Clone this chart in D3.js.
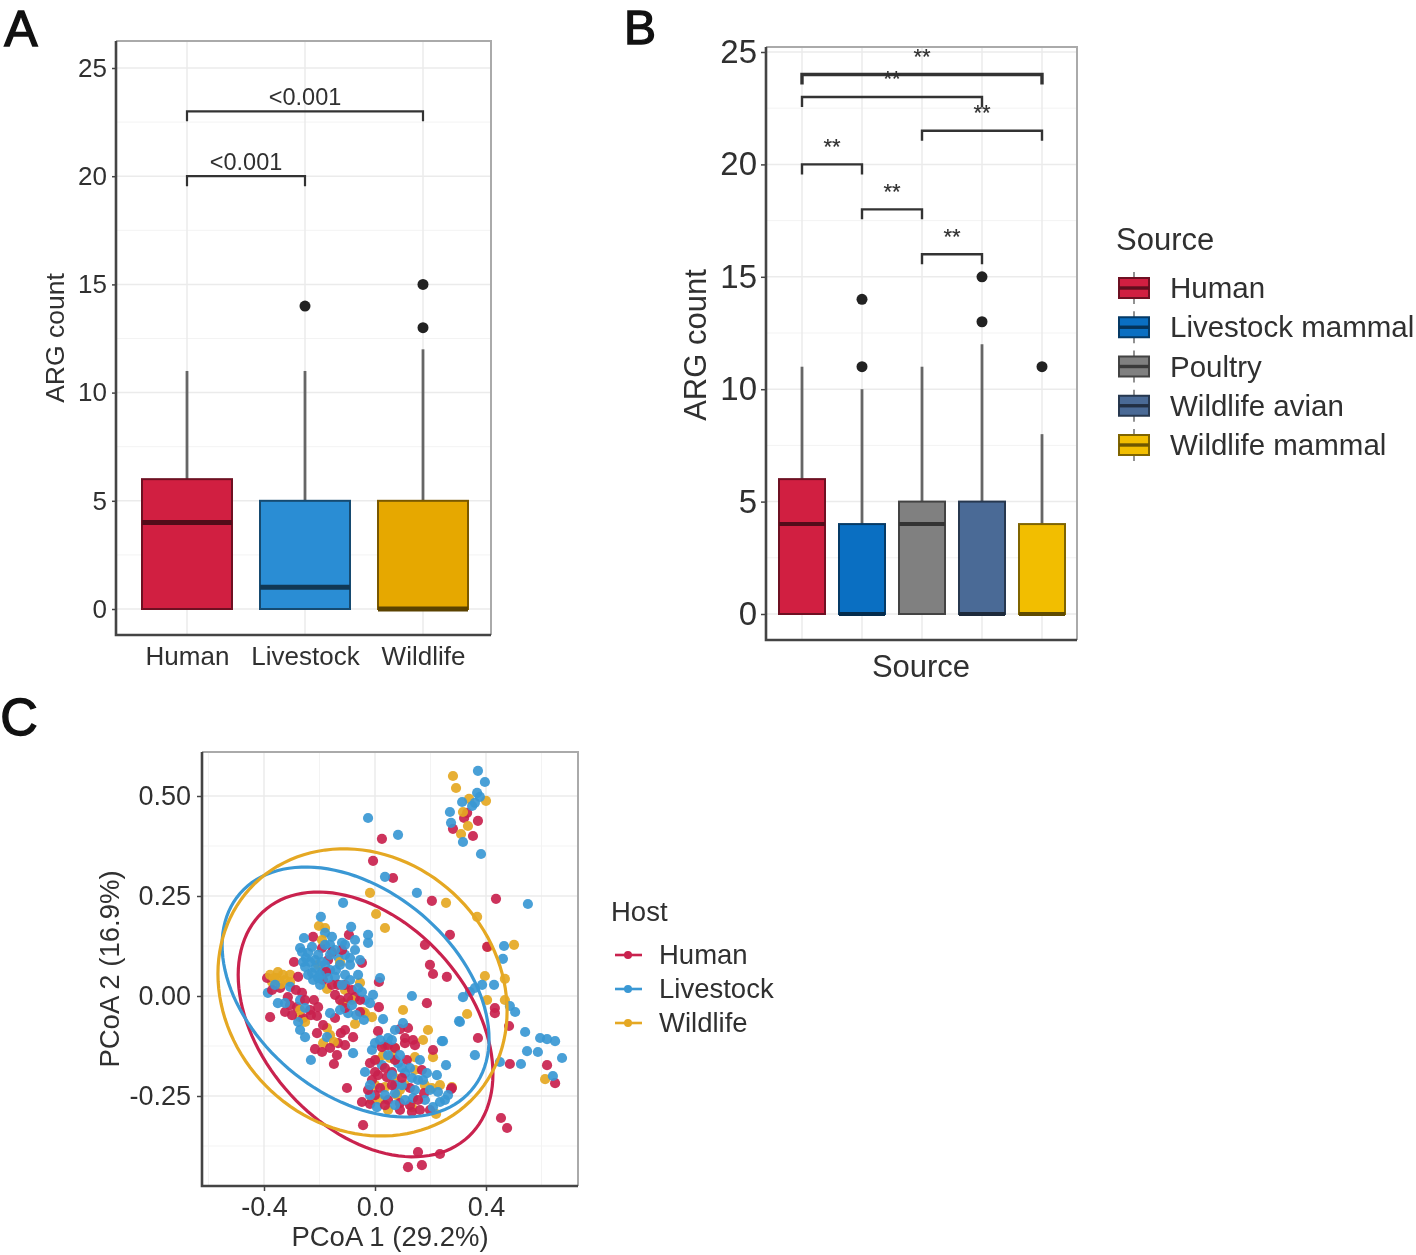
<!DOCTYPE html>
<html><head><meta charset="utf-8">
<script src="https://d3js.org/d3.v7.min.js"></script>
<style>
html,body{margin:0;padding:0;background:#fff}
svg{display:block;font-family:"Liberation Sans",Arial,sans-serif;filter:blur(0.7px)}
</style></head><body>
<svg id="c" width="1416" height="1255"></svg>
<script>
// Panel A
const catsA=["Human","Livestock","Wildlife"];
const q3A=[6,5,5], medA=[4,1,0], q1A=[0,0,0], whiskA=[11,11,12];
const outA=[[],[14],[13,15]];
const fillA=["#D11F41","#2A8DD4","#E6A800"];
const yTicks=[0,5,10,15,20,25];
const bracketsA=[["Human","Livestock",20,"<0.001"],["Human","Wildlife",23,"<0.001"]];
// Panel B
const catsB=["Human","Livestock mammal","Poultry","Wildlife avian","Wildlife mammal"];
const q3B=[6,4,5,5,4], medB=[4,0,4,0,0], q1B=[0,0,0,0,0], whiskB=[11,10,11,12,8];
const outB=[[],[11,14],[],[13,15],[11]];
const fillB=["#D11F41","#0A6FC2","#808080","#4A6A96","#F2BE00"];
const bracketsB=[[0,4,24,"**"],[0,3,23,"**"],[2,4,21.5,"**"],[0,1,20,"**"],[1,2,18,"**"],[2,3,16,"**"]];
// Panel C
const hostsC=["Human","Livestock","Wildlife"];
const colC=["#C9224E","#3A98D4","#E5A823"];
const xTicksC=[-0.4,0,0.4], xMinorC=[-0.6,-0.2,0.2,0.6];
const yTicksC=[-0.25,0,0.25,0.5], yMinorC=[-0.375,-0.125,0.125,0.375];
// ellipse: centre x, centre y, sd x, sd y, correlation
const ellHuman=[-0.034,-0.071,0.459,0.331,-0.373];
const ellLivestock=[-0.070,0.010,0.481,0.3125,-0.375];
const ellWildlife=[-0.045,0.009,0.521,0.359,-0.13];
const ptsHuman=[[.332,.458],[.321,.445],[.371,.438],[.281,.418],[.353,.400],[.436,.243],[.205,.238],[.270,.153],[.180,.128],[.404,.123],[.065,.295],[.198,.078],[.025,.393],[-.007,.338],
[.483,-.075],[.371,-.105],[.486,-.170],[.620,-.173],[.649,-.218],[.454,-.305],[.476,-.330],[.155,-.390],[.234,-.395],[.119,-.428],[.169,-.423],[.432,-.030],[.432,-.043],[.187,-.018],[.209,.055],[.259,.048],[.274,-.233],[.209,-.135],
[-.378,-.053],[-.043,-.323],[-.101,-.230],[.014,.035],[.014,-.028],[.011,-.088],[-.079,-.103],
[-.191,.120],[-.223,.148],[-.094,.153],[-.292,.085],[-.047,.083],[-.169,.090],[-.187,.040],[-.389,.045],[-.342,.020],[-.277,.048],[-.314,-.003],[-.263,.008],[-.281,-.028],[-.220,-.010],[-.205,-.028],[-.144,.003],[-.072,-.003],[-.209,-.050],[-.259,-.055],[-.144,-.055],[-.187,-.073],[-.123,-.093],[-.209,-.093],[-.133,-.118],[-.216,-.133],[-.191,-.140],[-.137,-.148],[-.148,-.170],
[-.108,.028],[-.083,.015],[-.234,-.035],[-.306,-.023],[-.108,-.030],[-.155,.028],[-.324,-.040],[-.126,-.010],[-.054,-.040],
[.090,-.083],[.119,-.080],[.137,-.110],[-.018,-.168],[-.011,-.210],[.043,-.203],[.115,-.160],[.169,-.185],[.126,-.230],[.177,-.243],[.277,-.230],[.047,-.123],[.018,-.230],[.047,-.260],[.090,-.268],[.162,-.285],[-.047,-.265],[0,-.248],[.108,-.118],[.025,-.128],[.061,-.190],[.011,-.198],[.126,-.273],[-.018,-.270],[.072,-.130],[.144,-.123],[.198,-.285],
[-.155,.110],[-.119,.115],[-.176,.060],[-.133,.028],[-.097,-.005],[-.054,-.010],[-.371,.015],[-.285,.015],[-.252,-.010],[-.299,-.048],[-.231,-.048],[-.108,-.085],[-.162,-.130],[-.108,-.123],
[0,-.160],[.036,-.180],[.072,-.160],[.061,-.223],[.097,-.205],[0,-.190],[.036,-.273],[.090,-.285],[.133,-.290],[-.025,-.235],[.108,-.105],[.155,-.260]];
const ptsLivestock=[[.371,.563],[.396,.535],[.368,.508],[.314,.485],[.270,.460],[.274,.433],[.317,.385],[.382,.355],[.083,.403],[.151,.258],[.551,.230],[.465,.125],[.461,.093],[.360,.483],[.378,.498],[.350,.475],[-.025,.445],[.036,.298],[-.115,.233],[-.195,.198],
[.541,-.090],[.595,-.105],[.620,-.108],[.649,-.113],[.548,-.138],[.587,-.140],[.674,-.155],[.526,-.170],[.450,-.165],[.641,-.200],[.360,-.148],[.505,-.040],[.486,-.025],[.429,.028],[.386,.028],[.360,.020],[.317,-.003],[.303,-.063],[.133,0],[.245,-.113],[.256,-.173],[.342,.010],
[-.350,-.018],[-.252,-.103],[-.231,-.160],[-.079,-.143],[.029,-.058],
[-.086,.173],[-.256,.145],[-.025,.153],[-.025,.133],[-.263,.110],[-.241,.108],[-.252,.073],[-.227,.058],[-.223,.040],[-.144,.048],[-.119,.133],[-.072,.140],[-.072,.115],[-.133,.098],[-.180,.158],[-.155,.148],[-.386,.008],[-.306,.023],[-.007,.003],[-.036,-.010],[-.097,-.043],[-.162,-.043],[-.173,-.103],
[-.205,.103],[-.180,.078],[-.216,.090],[-.162,.128],[-.191,.060],[-.162,.065],[-.126,.078],[-.108,.103],[-.227,.123],[-.234,.085],[-.108,.053],[-.090,.078],[-.061,.020],[.018,.045],[-.198,.028],[-.270,-.010],[-.277,-.065],
[.101,-.068],[.306,-.065],[.241,-.113],[.047,-.105],[0,-.118],[-.011,-.135],[.025,-.173],[.097,-.180],[.108,-.193],[.187,-.193],[.223,-.198],[.162,-.160],[.072,-.223],[.097,-.223],[-.018,-.248],[.007,-.278],[.234,-.265],[.209,-.278],[.252,-.260],[.137,-.255],[.173,-.210],[.083,-.168],[.133,-.205],[.061,-.110],[.072,-.243],[.263,-.248],[.180,-.260],
[-.270,.120],[-.249,.095],[-.216,.070],[-.198,.053],[-.241,.053],[-.180,.128],[-.144,.115],[-.108,.128],[-.090,.095],[-.162,.103],[-.191,.085],[-.141,.065],[-.169,.045],[-.119,.028],[-.090,.040],[-.061,.053],[-.259,.085],[-.205,.045],[-.054,.090],[-.047,.010],[-.018,-.018],[-.083,-.023],[-.126,-.035],[-.068,-.048],[-.040,-.060],[-.252,-.030],[-.360,.028],[-.324,-.018],[-.270,-.085],
[.018,-.110],[.072,-.085],[.047,-.148],[.090,-.148],[.126,-.180],[.155,-.210],[.061,-.198],[.036,-.248],[.072,-.273],[-.018,-.223],[.198,-.235],[.144,-.235],[.108,-.260],[-.036,-.190],[.227,-.240]];
const ptsWildlife=[[.281,.550],[.292,.520],[.339,.493],[.400,.488],[.335,.425],[.310,.405],[.256,.233],[.368,.198],[.407,.123],[.501,.128],[.317,.460],[-.018,.258],[.004,.205],[.036,.170],[-.202,.175],[-.180,.170],
[.468,.043],[.396,.050],[.468,-.010],[.404,-.010],[.332,-.045],[.101,-.035],[.191,-.085],[.613,-.208],[.209,-.153],[.277,-.228],[.220,-.295],[.173,-.110],[-.072,-.070],
[-.332,.053],[-.353,.045],[-.324,.040],[-.350,.060],[-.205,.078],[-.173,.018],[-.115,-.018],[-.054,.033],[-.270,-.053],[-.043,-.040],[-.187,-.118],[-.173,-.080],[-.036,-.043],[-.011,-.053],[-.371,.035],[-.306,.053],
[.061,-.148],[.029,-.148],[.054,-.155],[.036,-.228],[.079,-.248],[.205,-.230],[.133,-.278],[.144,-.153],[.011,-.160],[.090,-.235],[0,-.223],[.018,-.260],[.234,-.223],
[-.364,.045],[-.339,.030],[-.306,.035],[-.378,.053],[-.270,-.035],[-.252,-.065],[-.108,.015],[-.083,-.010],[-.191,.140],[-.126,.085],[-.162,-.098],[-.148,-.115],
[.072,-.130],[.036,-.123],[.108,-.223],[.072,-.205],[.144,-.185],[.180,-.223],[-.011,-.260],[.047,-.285]];

const svg=d3.select("#c");
const TXT="#303030";
function label(x,y,s,size,opt={}){
  const t=svg.append("text").attr("x",x).attr("y",y).attr("font-size",size).attr("fill",opt.fill||TXT)
    .attr("text-anchor",opt.anchor||"middle").text(s);
  if(opt.rotate)t.attr("transform",`rotate(-90 ${x} ${y})`);
  if(opt.stroke)t.attr("stroke",opt.fill||TXT).attr("stroke-width",opt.stroke);
  return t;
}
function frame(L,R,T,B){
  svg.append("path").attr("d",`M${L},${T}H${R}V${B}`).attr("fill","none").attr("stroke","#aaa").attr("stroke-width",2);
  svg.append("path").attr("d",`M${L},${T}V${B}H${R}`).attr("fill","none").attr("stroke","#444").attr("stroke-width",2.6);
}
function grid(L,R,T,B,xs,ys,col,w){
  const g=svg.append("g").attr("stroke",col).attr("stroke-width",w);
  xs.forEach(v=>g.append("line").attr("x1",v).attr("x2",v).attr("y1",T).attr("y2",B));
  ys.forEach(v=>g.append("line").attr("x1",L).attr("x2",R).attr("y1",v).attr("y2",v));
}
function styleAxis(g,size){
  g.select(".domain").remove();
  g.selectAll("line").attr("stroke","#444").attr("stroke-width",1.5);
  g.selectAll("text").attr("font-size",size).attr("fill",TXT).attr("font-family","'Liberation Sans',Arial,sans-serif");
}
function boxes(cats,x,y,hw,q1,med,q3,whisk,out,fill,rOut,medW){
  cats.forEach((c,i)=>{
    const cx=x(c), base=d3.color(fill[i]);
    svg.append("line").attr("x1",cx).attr("x2",cx).attr("y1",y(whisk[i])).attr("y2",y(q3[i])).attr("stroke","#666").attr("stroke-width",2.8);
    svg.append("rect").attr("x",cx-hw).attr("width",2*hw).attr("y",y(q3[i])).attr("height",y(q1[i])-y(q3[i]))
      .attr("fill",fill[i]).attr("stroke",base.darker(1.8)).attr("stroke-width",2);
    svg.append("line").attr("x1",cx-hw).attr("x2",cx+hw).attr("y1",y(med[i])).attr("y2",y(med[i])).attr("stroke",base.darker(2.6)).attr("stroke-width",medW);
    out[i].forEach(v=>svg.append("circle").attr("cx",cx).attr("cy",y(v)).attr("r",rOut).attr("fill","#222"));
  });
}
function bracket(x1,x2,yy,tip,w){
  svg.append("path").attr("d",`M${x1},${yy+tip}V${yy}H${x2}V${yy+tip}`).attr("fill","none").attr("stroke","#333").attr("stroke-width",w);
}

/* ---- Panel A ---- */
{
  const L=116,R=491,T=41,B=635;
  const x=d3.scalePoint().domain(catsA).range([187,423]);
  const y=d3.scaleLinear().domain([0,25]).range([609,68]);
  grid(L,R,T,B,[],d3.range(2.5,25,5).map(y),"#f3f3f3",1);
  grid(L,R,T,B,catsA.map(x),yTicks.map(y),"#ebebeb",1.5);
  boxes(catsA,x,y,45,q1A,medA,q3A,whiskA,outA,fillA,5.5,5);
  frame(L,R,T,B);
  const ay=svg.append("g").attr("transform",`translate(${L},0)`).call(d3.axisLeft(y).tickValues(yTicks).tickSize(4).tickPadding(5));
  styleAxis(ay,26);
  const ax=svg.append("g").attr("transform",`translate(0,${B})`).call(d3.axisBottom(x).tickSize(0).tickPadding(12));
  styleAxis(ax,26);
  label(64,338,"ARG count",26.5,{rotate:true});
  bracketsA.forEach(b=>{
    bracket(x(b[0]),x(b[1]),y(b[2]),10,2.2);
    label((x(b[0])+x(b[1]))/2,y(b[2])-6,b[3],23.5);
  });
}
/* ---- Panel B ---- */
{
  const L=766,R=1077,T=47,B=640;
  const x=d3.scalePoint().domain(catsB).range([802,1042]);
  const y=d3.scaleLinear().domain([0,25]).range([614,52]);
  grid(L,R,T,B,[],d3.range(2.5,25,5).map(y),"#f3f3f3",1);
  grid(L,R,T,B,catsB.map(x),yTicks.map(y),"#ebebeb",1.5);
  boxes(catsB,x,y,23,q1B,medB,q3B,whiskB,outB,fillB,5.5,4);
  frame(L,R,T,B);
  const ay=svg.append("g").attr("transform",`translate(${L},0)`).call(d3.axisLeft(y).tickValues(yTicks).tickSize(5).tickPadding(4));
  styleAxis(ay,33);
  label(706,345,"ARG count",31,{rotate:true});
  label(921,677,"Source",31);
  bracketsB.forEach((b,i)=>{
    const a=x(catsB[b[0]]),c=x(catsB[b[1]]);
    bracket(a,c,y(b[2]),10,i==0?3.4:2.4);
    label((a+c)/2,y(b[2])-10.5,b[3],22,{stroke:0.2});
  });
  label(1116,250,"Source",31,{anchor:"start"});
  const keyY=d3.scalePoint().domain(catsB).range([288,445]);
  catsB.forEach((c,i)=>{
    const k=keyY(c), base=d3.color(fillB[i]);
    svg.append("line").attr("x1",1134).attr("x2",1134).attr("y1",k-16).attr("y2",k+16).attr("stroke","#777").attr("stroke-width",1.6);
    svg.append("rect").attr("x",1119).attr("y",k-10).attr("width",30).attr("height",20).attr("fill",fillB[i]).attr("stroke",base.darker(1.8)).attr("stroke-width",2);
    svg.append("line").attr("x1",1119).attr("x2",1149).attr("y1",k).attr("y2",k).attr("stroke",base.darker(2.2)).attr("stroke-width",3.4);
    label(1170,k+10,c,29.5,{anchor:"start"});
  });
}
/* ---- Panel C ---- */
{
  const L=202,R=578,T=752,B=1186;
  const x=d3.scaleLinear().domain([-0.4,0.4]).range([264,486]);
  const y=d3.scaleLinear().domain([-0.25,0.5]).range([1096,796]);
  grid(L,R,T,B,xMinorC.map(x),yMinorC.map(y),"#f3f3f3",1);
  grid(L,R,T,B,xTicksC.map(x),yTicksC.map(y),"#ebebeb",1.5);
  const groups=[ptsHuman,ptsLivestock,ptsWildlife];
  const n=d3.max(groups,g=>g.length);
  const layer=svg.append("g").attr("fill-opacity",0.92);
  for(let i=0;i<n;i++) groups.forEach((g,k)=>{
    if(i<g.length) layer.append("circle").attr("cx",x(g[i][0])).attr("cy",y(g[i][1])).attr("r",5.1).attr("fill",colC[k]);
  });
  const line=d3.line().x(d=>x(d[0])).y(d=>y(d[1])).curve(d3.curveLinearClosed);
  [ellHuman,ellLivestock,ellWildlife].forEach((e,k)=>{
    const pts=d3.range(0,360,3).map(a=>{const t=a*Math.PI/180;
      return [e[0]+e[2]*Math.cos(t), e[1]+e[3]*(e[4]*Math.cos(t)+Math.sqrt(1-e[4]*e[4])*Math.sin(t))];});
    svg.append("path").attr("d",line(pts)).attr("fill","none").attr("stroke",colC[k]).attr("stroke-width",3.2);
  });
  frame(L,R,T,B);
  const ay=svg.append("g").attr("transform",`translate(${L},0)`).call(d3.axisLeft(y).tickValues(yTicksC).tickSize(5).tickPadding(6).tickFormat(v=>d3.format(".2f")(v).replace("\u2212","-")));
  styleAxis(ay,27);
  const ax=svg.append("g").attr("transform",`translate(0,${B})`).call(d3.axisBottom(x).tickValues(xTicksC).tickSize(5).tickPadding(6).tickFormat(v=>d3.format(".1f")(v).replace("\u2212","-")));
  styleAxis(ax,27);
  label(390,1246,"PCoA 1 (29.2%)",27.5);
  label(119,969,"PCoA 2 (16.9%)",27.5,{rotate:true});
  label(611,921,"Host",27.5,{anchor:"start"});
  const keyY=d3.scalePoint().domain(hostsC).range([955,1023]);
  hostsC.forEach((h,i)=>{
    const k=keyY(h);
    svg.append("line").attr("x1",615).attr("x2",642).attr("y1",k).attr("y2",k).attr("stroke",colC[i]).attr("stroke-width",2.6);
    svg.append("circle").attr("cx",628).attr("cy",k).attr("r",4).attr("fill",colC[i]);
    label(659,k+9,h,27.5,{anchor:"start"});
  });
}
/* ---- Panel letters ---- */
label(21,46,"A",50,{fill:"#111",stroke:1.4});
label(640,44,"B",48,{fill:"#111",stroke:1.4});
label(19,735,"C",52,{fill:"#111",stroke:1.4});
</script>
</body></html>
